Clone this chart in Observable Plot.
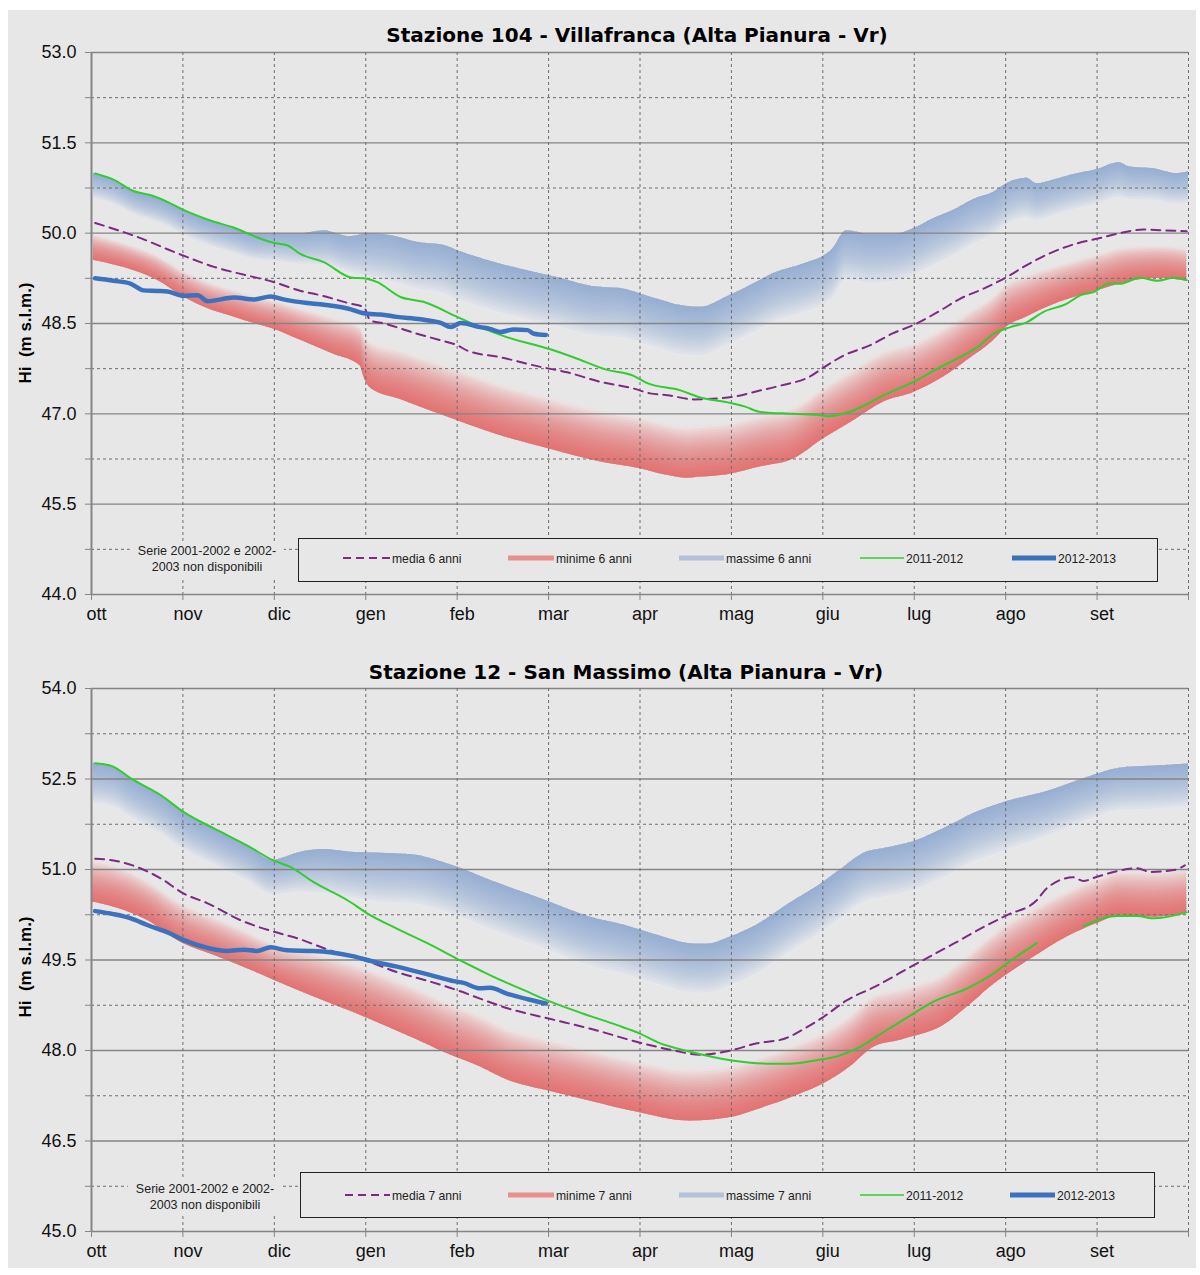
<!DOCTYPE html>
<html><head><meta charset="utf-8">
<script src="https://cdn.jsdelivr.net/npm/d3@7"></script>
<script src="https://cdn.jsdelivr.net/npm/@observablehq/plot@0.6"></script>
<style>
body{margin:0;background:#fff;}
#page{position:relative;width:1200px;height:1275px;overflow:hidden;background:#fff;}
#panel{position:absolute;left:8px;top:10px;width:1188px;height:1258px;background:#e7e7e7;}
.abs{position:absolute;}
.title{font-family:"DejaVu Sans",Verdana,sans-serif;font-weight:bold;font-size:20px;color:#000;white-space:nowrap;transform:translate(-50%,-50%);}
.ylab{font-family:"Liberation Sans",Arial,sans-serif;font-weight:bold;font-size:17px;white-space:pre;color:#000;transform:translate(-50%,-50%) rotate(-90deg);}
.legend{border:1px solid #222;background:#e7e7e7;box-sizing:border-box;}
.ltxt{font-family:"Liberation Sans",Arial,sans-serif;font-size:13.5px;color:#222;white-space:nowrap;transform-origin:0 50%;transform:translateY(-50%) scaleX(0.9);}
.note{font-family:"Liberation Sans",Arial,sans-serif;font-size:12.5px;color:#222;text-align:center;line-height:16px;background:#e7e7e7;padding:2px 8px;white-space:nowrap;transform:translate(-50%,-50%);}
svg.plotsvg{position:absolute;left:0;}
</style></head><body>
<div id="page"><div id="panel"></div></div>
<script>
// ---------- text ----------
const months = ["ott","nov","dic","gen","feb","mar","apr","mag","giu","lug","ago","set"];
const titles = ["Stazione 104 - Villafranca (Alta Pianura - Vr)", "Stazione 12 - San Massimo (Alta Pianura - Vr)"];
const yLabel = "Hi  (m s.l.m.)";
const legendLabels1 = ["media 6 anni","minime 6 anni","massime 6 anni","2011-2012","2012-2013"];
const legendLabels2 = ["media 7 anni","minime 7 anni","massime 7 anni","2011-2012","2012-2013"];
const noteLines = ["Serie 2001-2002 e 2002-","2003 non disponibili"];

// ---------- data: [month index from 1 Oct, Hi m s.l.m.] ----------
// Stazione 104 - Villafranca
const villaMedia = [[0.04,50.17],[0.46,49.96],[1.00,49.63],[1.19,49.52],[1.34,49.44],[1.56,49.35],[1.78,49.27],[1.99,49.19],[2.29,49.04],[2.50,48.97],[2.83,48.83],[2.98,48.77],[3.05,48.55],[3.20,48.50],[3.56,48.33],[3.82,48.22],[4.00,48.14],[4.11,48.05],[4.47,47.94],[4.91,47.78],[5.20,47.69],[5.57,47.53],[5.93,47.42],[6.11,47.34],[6.30,47.31],[6.59,47.24],[6.96,47.27],[7.32,47.39],[7.54,47.47],[7.86,47.62],[8.01,47.77],[8.23,47.97],[8.52,48.14],[8.77,48.34],[9.00,48.48],[9.29,48.72],[9.50,48.91],[9.76,49.08],[10.01,49.27],[10.23,49.47],[10.52,49.69],[10.78,49.83],[11.01,49.91],[11.22,49.99],[11.51,50.06],[11.69,50.05],[11.98,50.03]];
const villaMin = [[0.02,49.55],[0.46,49.38],[0.72,49.22],[1.01,48.94],[1.27,48.75],[1.56,48.61],[1.85,48.47],[1.99,48.41],[2.29,48.22],[2.65,47.99],[2.94,47.80],[2.98,47.61],[3.05,47.43],[3.38,47.24],[4.00,46.89],[4.47,46.64],[5.00,46.42],[5.57,46.20],[6.00,46.09],[6.30,45.98],[6.52,45.93],[6.66,45.95],[6.96,45.99],[7.32,46.12],[7.68,46.25],[8.01,46.59],[8.34,46.89],[8.67,47.20],[9.00,47.36],[9.32,47.61],[9.58,47.89],[9.87,48.22],[10.01,48.44],[10.23,48.61],[10.60,48.86],[11.01,49.05],[11.33,49.19],[11.69,49.25],[11.98,49.20]];
const villaMax = [[0.02,50.99],[0.24,50.89],[0.46,50.70],[0.83,50.52],[1.00,50.39],[1.30,50.21],[1.56,50.09],[1.78,49.99],[2.00,49.99],[2.29,49.99],[2.54,50.04],[2.83,49.94],[3.02,49.99],[3.31,49.95],[3.56,49.85],[3.85,49.80],[4.04,49.69],[4.47,49.49],[4.84,49.35],[5.13,49.25],[5.49,49.11],[5.79,49.08],[6.11,48.94],[6.48,48.79],[6.66,48.77],[6.96,48.95],[7.32,49.22],[7.46,49.33],[7.79,49.49],[8.01,49.62],[8.10,49.72],[8.26,50.04],[8.52,49.98],[8.77,49.98],[9.03,50.10],[9.21,50.24],[9.43,50.38],[9.65,50.56],[9.87,50.68],[10.01,50.82],[10.23,50.91],[10.34,50.82],[10.52,50.88],[10.71,50.96],[11.01,51.06],[11.24,51.17],[11.36,51.10],[11.62,51.07],[11.87,50.99],[12.0,51.02]];
const villa1112 = [[0.04,50.99],[0.24,50.89],[0.46,50.70],[0.65,50.63],[0.83,50.52],[1.00,50.39],[1.30,50.21],[1.56,50.09],[1.78,49.95],[1.99,49.84],[2.14,49.80],[2.29,49.65],[2.54,49.52],[2.85,49.26],[2.98,49.25],[3.12,49.19],[3.38,48.94],[3.63,48.86],[4.00,48.61],[4.25,48.44],[4.55,48.27],[5.00,48.08],[5.27,47.94],[5.64,47.73],[5.93,47.63],[6.08,47.51],[6.44,47.39],[6.66,47.27],[6.96,47.19],[7.15,47.12],[7.32,47.03],[7.68,47.00],[8.01,46.97],[8.06,46.96],[8.34,47.06],[8.67,47.31],[8.99,47.53],[9.29,47.78],[9.50,47.94],[9.69,48.11],[9.87,48.33],[10.05,48.44],[10.23,48.52],[10.41,48.69],[10.67,48.83],[10.82,48.97],[10.96,49.02],[11.14,49.17],[11.25,49.16],[11.47,49.26],[11.66,49.21],[11.84,49.26],[11.98,49.22]];
const villa1213 = [[0.04,49.25],[0.24,49.21],[0.43,49.16],[0.57,49.05],[0.72,49.04],[0.83,49.03],[1.01,48.96],[1.16,48.97],[1.27,48.87],[1.56,48.93],[1.78,48.90],[1.96,48.95],[2.10,48.90],[2.36,48.84],[2.50,48.82],[2.80,48.75],[3.02,48.66],[3.16,48.65],[3.34,48.61],[3.60,48.57],[3.82,48.51],[3.93,48.44],[4.04,48.51],[4.25,48.44],[4.36,48.41],[4.47,48.36],[4.62,48.40],[4.77,48.39],[4.84,48.33],[4.97,48.31]];

// Stazione 12 - San Massimo
const sanMedia = [[0.04,51.18],[0.24,51.15],[0.50,51.04],[0.76,50.85],[1.01,50.60],[1.27,50.44],[1.63,50.16],[1.99,49.97],[2.25,49.86],[2.61,49.66],[2.98,49.50],[3.34,49.30],[3.71,49.14],[4.00,49.00],[4.25,48.86],[4.55,48.70],[5.00,48.53],[5.46,48.36],[6.00,48.13],[6.37,48.00],[6.66,47.93],[6.99,48.00],[7.28,48.12],[7.57,48.19],[7.83,48.39],[8.01,48.56],[8.26,48.83],[8.56,49.05],[8.99,49.41],[9.43,49.77],[9.80,50.08],[10.01,50.24],[10.34,50.49],[10.45,50.69],[10.74,50.87],[10.85,50.81],[11.00,50.88],[11.44,51.02],[11.58,50.96],[11.84,50.99],[11.96,51.07]];
const sanMin = [[0.01,50.46],[0.24,50.38],[0.61,50.16],[0.97,49.80],[1.34,49.58],[1.70,49.36],[1.99,49.17],[2.43,48.89],[2.98,48.56],[3.53,48.20],[3.89,47.95],[4.25,47.73],[4.55,47.51],[4.97,47.34],[5.46,47.16],[5.96,46.98],[6.55,46.83],[6.96,46.88],[7.32,47.04],[7.72,47.26],[8.01,47.45],[8.30,47.73],[8.56,48.06],[8.85,48.17],[8.99,48.23],[9.29,48.39],[9.58,48.72],[9.83,49.05],[10.01,49.25],[10.31,49.55],[10.67,49.88],[11.04,50.13],[11.25,50.24],[11.62,50.21],[11.98,50.27]];
const sanMax = [[0.02,52.76],[0.23,52.71],[0.43,52.51],[0.76,52.23],[1.01,51.95],[1.34,51.68],[1.70,51.40],[1.99,51.15],[2.07,51.18],[2.25,51.27],[2.54,51.33],[2.80,51.29],[3.16,51.27],[3.53,51.24],[3.82,51.13],[4.00,51.04],[4.36,50.82],[4.91,50.52],[5.46,50.21],[5.82,50.08],[6.19,49.91],[6.55,49.77],[6.73,49.76],[6.99,49.88],[7.28,50.08],[7.64,50.44],[8.01,50.79],[8.19,50.99],[8.48,51.29],[8.67,51.35],[8.99,51.46],[9.39,51.73],[9.65,51.93],[9.94,52.09],[10.49,52.31],[10.94,52.55],[11.25,52.68],[11.58,52.71],[12.0,52.75]];
const san1112 = [[0.04,52.76],[0.23,52.71],[0.43,52.51],[0.76,52.23],[1.01,51.95],[1.34,51.68],[1.70,51.40],[1.99,51.15],[2.18,51.04],[2.43,50.79],[2.80,50.49],[3.02,50.27],[3.34,50.02],[3.71,49.75],[4.00,49.52],[4.25,49.33],[4.44,49.19],[4.73,49.00],[5.02,48.81],[5.38,48.61],[5.75,48.42],[6.00,48.28],[6.19,48.14],[6.55,47.98],[6.99,47.84],[7.46,47.78],[7.64,47.78],[7.90,47.83],[8.19,47.92],[8.37,48.03],[8.70,48.34],[8.99,48.61],[9.21,48.81],[9.58,49.03],[9.87,49.28],[10.01,49.44],[10.34,49.78],[10.60,null],[10.85,50.06],[11.22,50.23],[11.44,50.23],[11.62,50.19],[11.98,50.29]];
const san1213 = [[0.04,50.31],[0.24,50.26],[0.43,50.19],[0.61,50.08],[0.86,49.94],[1.01,49.83],[1.27,49.70],[1.48,49.65],[1.67,49.67],[1.81,49.65],[1.96,49.71],[2.14,49.66],[2.43,49.65],[2.61,49.63],[2.87,49.56],[3.09,49.47],[3.34,49.39],[3.71,49.25],[3.96,49.15],[4.07,49.12],[4.25,49.03],[4.36,49.04],[4.55,48.94],[4.77,48.85],[4.97,48.78]];

// ---------- style ----------
const BG = "#e7e7e7";
const COL = {media:"#7d2a82", min:"#e65c5c", max:"#86a3d3", green:"#30cc30", blue:"#3b72be", legMin:"#e8908e", legMax:"#b2c2da"};

function interp(series, x) {
  const i = d3.bisector(d => d[0]).left(series, x);
  if (i <= 0) return series[0][1];
  if (i >= series.length) return series[series.length - 1][1];
  const [x0, y0] = series[i - 1], [x1, y1] = series[i];
  return y0 + (y1 - y0) * (x - x0) / (x1 - x0);
}
const thick = gap => Math.max(0.4, Math.min(0.85, 0.3 * gap));

function makeChart({maxS, minS, media, green, blue, yDomain, height, marginTop, marginBottom}) {
  const [y0, y1] = yDomain;
  const yMajor = d3.range(y0, y1 + 0.001, 1.5);
  const yMinor = d3.range(y0 + 0.75, y1, 1.5);
  const allTicks = d3.range(y0, y1 + 0.001, 0.75);
  const N = 20;
  const bandMax = maxS.map(([x, v]) => ({x, v, t: thick(v - interp(minS, x))}));
  const bandMin = minS.map(([x, v]) => ({x, v, t: thick(interp(maxS, x) - v)}));
  const marks = [
    Plot.areaY(bandMax, {x: "x", y1: d => d.v - d.t, y2: "v", fill: "white", fillOpacity: 0.25, curve: "monotone-x"}),
    Plot.areaY(bandMin, {x: "x", y1: "v", y2: d => d.v + d.t, fill: "white", fillOpacity: 0.25, curve: "monotone-x"})
  ];
  for (let k = 1; k <= N; k++) {
    const f = k / N;
    marks.push(Plot.areaY(bandMax, {x: "x", y1: d => d.v - d.t * f, y2: "v", fill: COL.max, fillOpacity: 0.062, curve: "monotone-x"}));
    marks.push(Plot.areaY(bandMin, {x: "x", y1: "v", y2: d => d.v + d.t * f, fill: COL.min, fillOpacity: 0.07, curve: "monotone-x"}));
  }
  marks.push(
    Plot.ruleY(yMinor, {stroke: "#6e6e6e", strokeDasharray: "3,3", strokeWidth: 1}),
    Plot.ruleY(yMajor.filter(v => v > y0), {stroke: "#858585", strokeWidth: 1.3}),
    Plot.ruleX(d3.range(1, 13), {stroke: "#6e6e6e", strokeDasharray: "3,3", strokeWidth: 1}),
    Plot.line(media, {x: d => d[0], y: d => d[1], stroke: COL.media, strokeWidth: 2, strokeDasharray: "9,6", curve: "monotone-x"}),
    Plot.line(green, {x: d => d[0], y: d => d[1], stroke: COL.green, strokeWidth: 2, curve: "monotone-x"}),
    Plot.line(blue, {x: d => d[0], y: d => d[1], stroke: COL.blue, strokeWidth: 4.5, curve: "monotone-x"}),
    Plot.ruleX([0], {stroke: "#858585", strokeWidth: 2}),
    Plot.ruleY([y0], {stroke: "#858585", strokeWidth: 1.5}),
    Plot.axisY(allTicks, {label: null, tickSize: 6, tickPadding: 9, stroke: "#858585", fill: "#111", fontSize: 18,
      tickFormat: d => (((d - y0) / 1.5) % 1 === 0 ? d.toFixed(1) : "")}),
    Plot.axisX(d3.range(13), {label: null, tickSize: 6, stroke: "#858585", tickFormat: () => ""}),
    Plot.axisX(d3.range(12), {label: null, tickSize: 0, tickPadding: 13, dx: 5, fill: "#111", fontSize: 18, tickFormat: i => months[i]})
  );
  return Plot.plot({
    width: 1200, height, marginLeft: 91, marginRight: 12, marginTop, marginBottom,
    style: {background: "transparent", fontFamily: "'Liberation Sans', Arial, sans-serif", overflow: "visible"},
    x: {domain: [0, 12], axis: null},
    y: {domain: yDomain, axis: null},
    marks
  });
}

const page = document.getElementById("page");
function addDiv(cls, text, left, top, extra = {}) {
  const d = document.createElement("div");
  d.className = "abs " + cls;
  d.textContent = text;
  d.style.left = left + "px";
  d.style.top = top + "px";
  Object.assign(d.style, extra);
  page.appendChild(d);
  return d;
}
function swatch(type, left, top, w) {
  const ns = "http://www.w3.org/2000/svg";
  const s = document.createElementNS(ns, "svg");
  s.setAttribute("width", w); s.setAttribute("height", 12);
  s.style.position = "absolute"; s.style.left = left + "px"; s.style.top = (top - 6) + "px";
  const l = document.createElementNS(ns, "line");
  l.setAttribute("x1", 0); l.setAttribute("x2", w); l.setAttribute("y1", 6); l.setAttribute("y2", 6);
  const st = {media: [COL.media, 2, "8,5"], min: [COL.legMin, 5, null], max: [COL.legMax, 5, null], green: [COL.green, 1.6, null], blue: [COL.blue, 5, null]}[type];
  l.setAttribute("stroke", st[0]); l.setAttribute("stroke-width", st[1]);
  if (st[2]) l.setAttribute("stroke-dasharray", st[2]);
  s.appendChild(l);
  page.appendChild(s);
}
const types = ["media", "min", "max", "green", "blue"];

function drawPanel(cfg, top, lay) {
  const svg = makeChart(cfg);
  svg.classList.add("plotsvg");
  svg.style.top = top + "px";
  page.appendChild(svg);
  addDiv("title", cfg.title, lay.titleX, lay.titleY);
  addDiv("ylab", yLabel, 26, lay.ylabY);
  addDiv("legend", "", lay.box[0], lay.box[1], {width: lay.box[2] + "px", height: lay.box[3] + "px"});
  const n = addDiv("note", "", lay.note[0], lay.note[1]);
  n.innerHTML = noteLines.join("<br>");
  cfg.legend.forEach((lab, i) => {
    swatch(types[i], lay.sw[i], lay.ly, lay.tx[i] - lay.sw[i] - 2);
    addDiv("ltxt", lab, lay.tx[i], lay.ly);
  });
}

drawPanel({maxS: villaMax, minS: villaMin, media: villaMedia, green: villa1112, blue: villa1213,
  yDomain: [44, 53], height: 637, marginTop: 52, marginBottom: 43, title: titles[0], legend: legendLabels1}, 0,
  {titleX: 637, titleY: 35, ylabY: 333, box: [298, 538, 860, 44], note: [207, 559],
   sw: [343, 508, 679, 860, 1012], tx: [392, 556, 726, 906, 1058], ly: 558});
drawPanel({maxS: sanMax, minS: sanMin, media: sanMedia, green: san1112, blue: san1213,
  yDomain: [45, 54], height: 638, marginTop: 51, marginBottom: 44, title: titles[1], legend: legendLabels2}, 637,
  {titleX: 626, titleY: 672, ylabY: 967, box: [300, 1172, 855, 46], note: [205, 1197],
   sw: [345, 508, 679, 860, 1010], tx: [392, 556, 726, 906, 1057], ly: 1195});
</script>
</body></html>
